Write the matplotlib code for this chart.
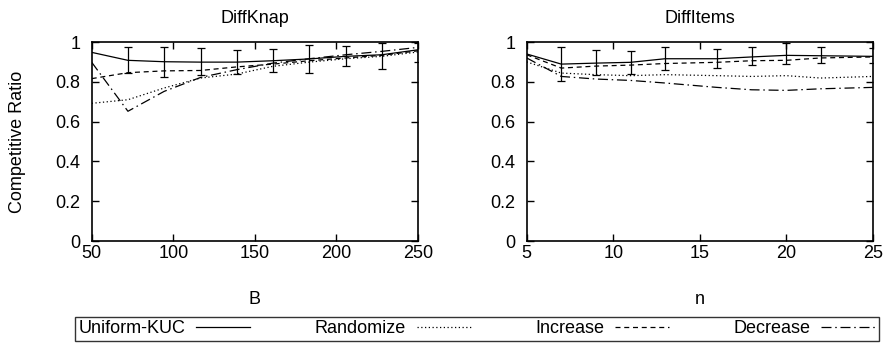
#!/usr/bin/env python3
"""Competitive ratio vs B and vs n, gnuplot-like style."""

import matplotlib
matplotlib.use("Agg")
import matplotlib.pyplot as plt
from matplotlib.lines import Line2D

plt.rcParams.update(
    {
        "font.family": ["Liberation Sans", "DejaVu Sans"],
        "font.size": 13,
        "axes.linewidth": 1.2,
        "xtick.direction": "in",
        "ytick.direction": "in",
        "xtick.top": True,
        "ytick.right": True,
        "xtick.major.size": 5,
        "ytick.major.size": 5,
        "xtick.major.width": 1.0,
        "ytick.major.width": 1.0,
        "xtick.major.pad": 3,
        "ytick.major.pad": 8,
    }
)

# DiffKnap (x = B)
knap_x = [50, 72.2, 94.4, 116.7, 138.9, 161.1, 183.3, 205.6, 227.8, 250]
knap_uniform = [0.948, 0.908, 0.901, 0.899, 0.899, 0.906, 0.915, 0.928, 0.936, 0.961]
knap_uniform_lo = [None, 0.844, 0.822, 0.836, 0.839, 0.848, 0.844, 0.878, 0.864, 0.899]
knap_uniform_hi = [None, 0.973, 0.973, 0.970, 0.958, 0.966, 0.983, 0.982, 0.995, 0.995]
knap_random = [0.692, 0.710, 0.769, 0.819, 0.839, 0.878, 0.899, 0.916, 0.928, 0.950]
knap_increase = [0.816, 0.846, 0.855, 0.857, 0.875, 0.889, 0.906, 0.920, 0.933, 0.956]
knap_decrease = [0.898, 0.652, 0.752, 0.822, 0.861, 0.894, 0.916, 0.936, 0.953, 0.973]

# DiffItems (x = n)
items_x = [5, 7, 9, 11, 13, 16, 18, 20, 22, 25]
items_uniform = [0.940, 0.889, 0.894, 0.898, 0.916, 0.916, 0.925, 0.933, 0.931, 0.928]
items_uniform_lo = [None, 0.806, 0.832, 0.839, 0.861, 0.869, 0.886, 0.891, 0.894, 0.894]
items_uniform_hi = [None, 0.973, 0.961, 0.956, 0.973, 0.966, 0.973, 0.995, 0.973, 0.970]
items_random = [0.900, 0.844, 0.836, 0.831, 0.836, 0.831, 0.827, 0.831, 0.819, 0.827]
items_increase = [0.936, 0.869, 0.879, 0.884, 0.892, 0.898, 0.906, 0.908, 0.920, 0.925]
items_decrease = [0.920, 0.827, 0.814, 0.807, 0.794, 0.772, 0.760, 0.757, 0.765, 0.772]

SERIES = ["Uniform-KUC", "Randomize", "Increase", "Decrease"]
STYLES = {
    "Uniform-KUC": "-",
    "Randomize": (0, (1, 2)),
    "Increase": (0, (4, 3)),
    "Decrease": (0, (8, 3, 1.2, 3)),
}
LW = 0.9


def draw_panel(ax, x, uni, lo, hi, rnd, inc, dec, title, xlabel, xlim, xticks):
    for name, ys in zip(SERIES, (uni, rnd, inc, dec)):
        ax.plot(x, ys, color="black", linestyle=STYLES[name], linewidth=LW)
    ex, ey, elo, ehi = [], [], [], []
    for xi, yi, l, h in zip(x, uni, lo, hi):
        if l is None:
            continue
        ex.append(xi)
        ey.append(yi)
        elo.append(yi - l)
        ehi.append(h - yi)
    ax.errorbar(ex, ey, yerr=[elo, ehi], fmt="none", ecolor="black",
                elinewidth=LW, capsize=2.8, capthick=LW)
    ax.set_xlim(*xlim)
    ax.set_ylim(0, 1)
    ax.set_xticks(xticks)
    ax.set_yticks([0, 0.2, 0.4, 0.6, 0.8, 1])
    ax.set_yticklabels(["0", "0.2", "0.4", "0.6", "0.8", "1"])
    ax.set_title(title, fontsize=13, pad=14)
    ax.set_xlabel(xlabel, fontsize=13, labelpad=21)


fig = plt.figure(figsize=(8.93, 3.45), dpi=100)
ax1 = fig.add_axes([0.1027, 0.3014, 0.3654, 0.5768])
ax2 = fig.add_axes([0.5898, 0.3014, 0.3875, 0.5768])

draw_panel(ax1, knap_x, knap_uniform, knap_uniform_lo, knap_uniform_hi,
           knap_random, knap_increase, knap_decrease,
           "DiffKnap", "B", (50, 250), [50, 100, 150, 200, 250])
draw_panel(ax2, items_x, items_uniform, items_uniform_lo, items_uniform_hi,
           items_random, items_increase, items_decrease,
           "DiffItems", "n", (5, 25), [5, 10, 15, 20, 25])
ax1.set_ylabel("Competitive Ratio", fontsize=13)
ax1.yaxis.set_label_coords(-0.20, 0.5)

handles = [Line2D([], [], color="black", linestyle=STYLES[s], linewidth=LW) for s in SERIES]
leg = fig.legend(
    handles, SERIES,
    loc="lower left",
    bbox_to_anchor=(75 / 893, 4 / 345, 804 / 893, 23 / 345),
    mode="expand",
    ncol=4,
    markerfirst=False,
    frameon=True,
    fancybox=False,
    edgecolor="black",
    fontsize=13,
    handlelength=3.0,
    borderpad=0.2,
    borderaxespad=0,
    handletextpad=0.6,
)
leg.get_frame().set_linewidth(1.0)

fig.savefig("out.png", dpi=100)
